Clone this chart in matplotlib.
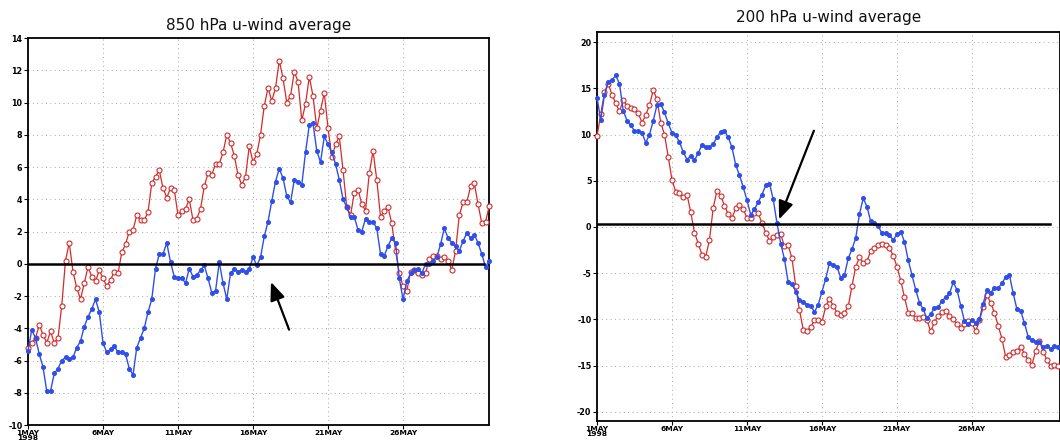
import matplotlib
matplotlib.use("Agg")
import matplotlib.pyplot as plt
import numpy as np

RED = "#d42a2a"
BLUE = "#2f4fe8"
GRID = "#a8a8a8"

# 6-hourly time axis, days since 00Z 1 May 1998
days = np.arange(124) * 0.25

tick_days = [0, 5, 10, 15, 20, 25]
tick_labels = ["1MAY\n1998", "6MAY", "11MAY", "16MAY", "21MAY", "26MAY"]

u850_red = [
    -5.2, -4.9, -4.6, -3.8, -4.4, -4.9, -4.2, -4.9, -4.6, -2.6,
    0.2, 1.3, -0.5, -1.5, -2.2, -1.2, -0.2, -0.8, -1.1, -0.4,
    -0.9, -1.4, -1.0, -0.5, -0.6, 0.7, 1.2, 2.0, 2.1, 3.0,
    2.7, 2.7, 3.2, 5.0, 5.4, 5.8, 4.7, 4.1, 4.7, 4.6,
    3.0, 3.3, 3.4, 4.0, 2.7, 2.8, 3.4, 4.8, 5.6, 5.5,
    6.2, 6.2, 6.9, 8.0, 7.5, 6.7, 5.5, 4.9, 5.4, 7.3,
    6.3, 6.8, 8.0, 9.8, 10.9, 10.1, 10.9, 12.6, 11.5, 10.0,
    10.4, 11.9, 11.3, 8.9, 9.9, 11.6, 10.4, 8.4, 9.5, 10.6,
    8.4, 6.6, 7.4, 7.9, 5.8, 3.5, 3.0, 4.4, 4.6, 3.7,
    3.3, 5.6, 7.0, 5.2, 2.9, 3.3, 3.5, 2.5, 0.8, -0.6,
    -1.4, -1.7, -0.5, -0.4, -0.6, -0.7, -0.6, 0.3, 0.5, 0.5,
    0.3, 0.4, 0.2, -0.4, 0.8, 3.0, 3.8, 3.8, 4.8, 5.0,
    3.7, 2.5, 2.6, 3.6,
]
u850_blue = [
    -5.4, -4.1, -4.6, -5.6, -6.4, -7.9, -7.9, -6.8, -6.5, -6.0,
    -5.8, -5.9, -5.8, -5.2, -4.8, -3.9, -3.3, -2.8, -2.2, -3.0,
    -4.9, -5.5, -5.3, -5.1, -5.5, -5.5, -5.6, -6.5, -6.9, -5.2,
    -4.6, -4.0, -3.0, -2.2, -0.3, 0.6, 0.6, 1.3, 0.1, -0.8,
    -0.9, -0.9, -1.2, -0.3, -0.8, -0.7, -0.4, -0.1, -0.9, -1.8,
    -1.7, 0.1, -1.2, -2.2, -0.6, -0.3, -0.5, -0.4, -0.5, -0.3,
    0.4, -0.1, 0.4, 1.7, 2.6, 3.9, 5.1, 5.9, 5.3, 4.2,
    3.8, 5.2, 5.1, 4.9, 6.9, 8.6, 8.7, 7.0, 6.3, 7.9,
    7.4, 6.9, 6.2, 5.2, 4.0, 3.5, 2.9, 2.9, 2.1, 2.0,
    2.8, 2.6, 2.6, 2.2, 0.6, 0.5, 1.1, 1.6, 1.3, -0.9,
    -2.2, -1.1, -0.6, -0.4, -0.3, -0.6, 0.0, 0.0, 0.2, 0.4,
    1.2, 2.2, 1.6, 1.3, 1.1, 0.8, 1.4, 1.9, 1.6, 1.8,
    1.3, 0.6, -0.2, 0.2,
]
u200_red = [
    9.8, 12.2, 14.6, 15.5, 14.3, 13.4, 12.5, 13.7, 13.1, 12.9,
    12.8, 12.3, 11.3, 12.1, 13.2, 14.8, 13.8, 11.3, 10.0, 7.6,
    5.1, 3.8, 3.7, 3.2, 3.5, 1.6, -0.6, -1.8, -3.0, -3.2,
    -1.4, 2.1, 3.9, 3.4, 2.3, 1.4, 1.0, 2.0, 2.4, 1.9,
    1.0, 1.0, 1.5, 1.5, 0.4, -0.6, -1.5, -1.1, -0.9, -0.8,
    -2.1, -2.0, -3.4, -6.4, -9.0, -11.1, -11.3, -10.8, -10.1, -10.1,
    -10.3, -8.6, -7.8, -8.5, -9.3, -9.5, -9.3, -8.6, -6.4, -4.3,
    -3.3, -3.9, -3.7, -2.6, -2.3, -1.9, -1.8, -1.9, -2.3, -3.1,
    -4.3, -5.8, -7.6, -9.3, -9.3, -9.9, -9.9, -9.7, -10.1, -11.3,
    -10.3, -9.6, -9.2, -9.1, -9.6, -10.0, -10.5, -10.9, -10.5, -10.2,
    -10.4, -11.3, -10.1, -8.7, -7.4, -8.2, -9.3, -10.7, -12.1, -14.1,
    -13.9, -13.5, -13.4, -13.0, -13.7, -14.4, -14.9, -13.4, -12.3, -13.5,
    -14.4, -15.1, -14.9, -15.0,
]
u200_blue = [
    14.0, 11.6, 14.3, 15.7, 15.9, 16.4, 15.5, 12.6, 11.5, 11.0,
    10.4, 10.4, 10.2, 9.1, 10.0, 11.5, 13.2, 13.3, 12.4, 11.2,
    10.2, 9.9, 9.2, 8.1, 7.3, 7.7, 7.2, 8.0, 8.9, 8.6,
    8.7, 9.0, 9.7, 10.3, 10.4, 9.7, 8.6, 6.7, 5.6, 4.3,
    2.9, 1.3, 1.9, 2.7, 3.5, 4.5, 4.7, 3.0, 0.4, -1.8,
    -3.5, -6.0, -6.2, -7.0, -7.9, -8.1, -8.4, -8.5, -9.2, -8.4,
    -7.0, -5.6, -3.9, -4.1, -4.3, -5.5, -5.2, -3.4, -2.4, -1.2,
    1.4, 3.1, 2.2, 0.6, 0.4, 0.1, -0.7, -0.7, -0.9, -1.4,
    -0.8, -0.5, -1.6, -3.6, -5.2, -6.8, -8.2, -8.9, -9.9, -9.4,
    -8.8, -8.7, -8.0, -7.6, -7.2, -6.0, -6.8, -8.5, -10.2, -10.5,
    -10.1, -10.4, -10.0, -8.3, -6.8, -7.1, -6.6, -6.6, -6.1, -5.4,
    -5.2, -7.2, -8.9, -9.1, -10.4, -11.9, -12.2, -12.4, -12.5, -13.0,
    -12.9, -13.2, -12.9, -13.0,
]


def panel(ax, red, blue, title, yticks, ylim, xmax, zero_y, zero_xmax,
          arrow_head, arrow_tail, title_y):
    ax.set_xlim(0, xmax)
    ax.set_ylim(*ylim)
    ax.set_xticks(tick_days)
    ax.set_xticklabels(tick_labels, fontsize=5.4, fontweight="bold",
                       linespacing=0.85)
    ax.set_yticks(yticks)
    ax.set_yticklabels([str(v) for v in yticks], fontsize=5.8, fontweight="bold")
    ax.tick_params(direction="out", length=3, width=0.8, pad=1)
    ax.tick_params(axis="x", pad=0.3)
    for ln in yticks:
        ax.axhline(ln, color=GRID, lw=0.7, ls=(0, (1, 3.5)), zorder=0)
    for t in tick_days:
        ax.axvline(t, color=GRID, lw=0.7, ls=(0, (1, 3.5)), zorder=0)
    for s in ax.spines.values():
        s.set_linewidth(1.3)

    ax.plot(days, red, color=RED, lw=0.9, marker="o", ms=3.6, mfc="white",
            mec=RED, mew=0.8, zorder=3, clip_on=False)
    ax.plot(days, blue, color=BLUE, lw=1.0, marker="o", ms=2.6, mfc=BLUE,
            mec=BLUE, zorder=4, clip_on=False)
    ax.axhline(zero_y, xmin=0, xmax=zero_xmax, color="black", lw=1.8, zorder=5)
    ax.annotate("", xy=arrow_head, xytext=arrow_tail,
                arrowprops=dict(arrowstyle="-|>,head_width=0.45,head_length=1.1",
                                color="black", lw=1.6), zorder=6)
    ax.text(0.5, title_y, title, transform=ax.transAxes, ha="center",
            va="bottom", fontsize=11, color="#111111")


fig = plt.figure(figsize=(10.6, 4.44), dpi=100)
fig.patch.set_facecolor("white")

ax1 = fig.add_axes([28 / 1060, 19 / 444, 461 / 1060, 387 / 444])
panel(ax1, u850_red, u850_blue, "850 hPa u-wind average",
      list(range(-10, 15, 2)), (-10, 14), 30.73, 0.0, 0.99,
      (16.13, -0.97), (17.47, -4.25), 1.012)

ax2 = fig.add_axes([597 / 1060, 23 / 444, 463 / 1060, 389 / 444])
panel(ax2, u200_red, u200_blue, "200 hPa u-wind average",
      list(range(-20, 21, 5)), (-21, 21.1), 30.87, 0.3, 0.978,
      (12.07, 0.54), (14.53, 10.7), 1.018)

fig.savefig("out.png", dpi=100, facecolor="white")
